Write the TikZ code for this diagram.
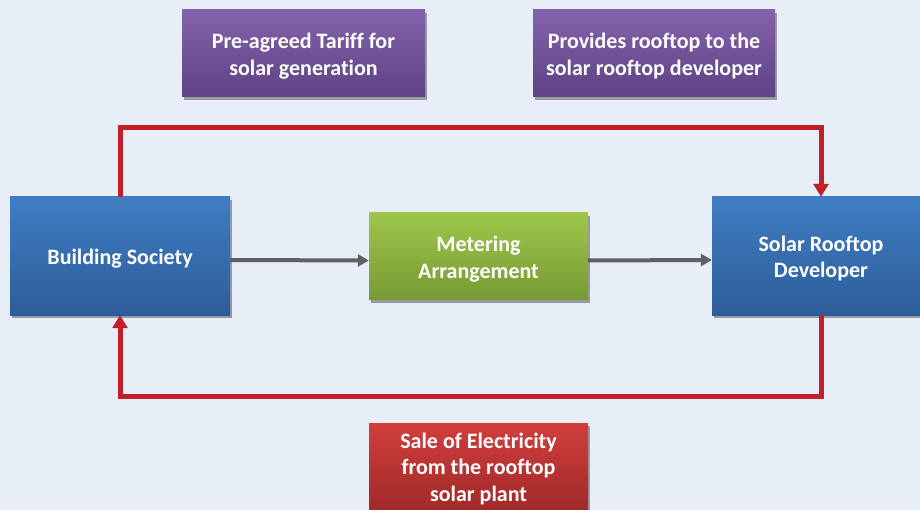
\documentclass[tikz,border=0pt]{standalone}
\usepackage{fontspec}
\setmainfont{Carlito}[RawFeature={-liga}]
\usetikzlibrary{shadows,arrows.meta}
\definecolor{bg}{HTML}{E8EEF8}
\definecolor{purpT}{HTML}{8462AB}
\definecolor{purpB}{HTML}{5E4284}
\definecolor{blueT}{HTML}{3F7DC2}
\definecolor{blueB}{HTML}{2D5D99}
\definecolor{greenT}{HTML}{9EC64B}
\definecolor{greenB}{HTML}{769B34}
\definecolor{redT}{HTML}{D03E3C}
\definecolor{redB}{HTML}{A12A29}
\definecolor{redline}{HTML}{C1202A}
\definecolor{grayline}{HTML}{5F6061}
\begin{document}
\begin{tikzpicture}[x=1pt,y=-1pt,
  box/.style={draw=none, inner sep=0pt,
    drop shadow={shadow xshift=2pt,shadow yshift=-3pt,opacity=0.35,fill=black}},
  boxtext/.style={align=center, text=white, inner sep=0pt, yshift=-2.5pt,
    font=\bfseries\fontsize{22}{26.5}\selectfont},
  purplebox/.style={box, top color=purpT, bottom color=purpB, minimum width=243pt, minimum height=87pt},
  bluebox/.style={box, top color=blueT, bottom color=blueB, minimum height=118pt},
  greenbox/.style={box, top color=greenT, bottom color=greenB, minimum width=219pt, minimum height=87pt},
  redbox/.style={box, top color=redT, bottom color=redB, minimum width=219pt, minimum height=87pt},
  redarrow/.style={draw=redline, line width=5pt, -{Triangle[width=15pt,length=13pt]}},
  grayarrow/.style={draw=grayline, line width=4pt, -{Triangle[width=12pt,length=11pt]}}]
\useasboundingbox (0,0) rectangle (920,510);
\clip (0,0) rectangle (920,510);
\fill[bg] (0,0) rectangle (920,510);

\node[purplebox] (tariff) at (303.5,53.5) {};
\node[boxtext] (tariffT) at (tariff.center) {Pre-agreed Tariff for\\solar generation};
\node[purplebox, minimum width=242pt] (provides) at (654,53.5) {};
\node[boxtext] (providesT) at (provides.center) {Provides rooftop to the\\solar rooftop developer};
\node[bluebox, minimum width=220pt] (bs) at (120,256) {};
\node[boxtext] (bsT) at (bs.center) {Building Society};
\node[greenbox] (meter) at (478.5,256.5) {};
\node[boxtext] (meterT) at (meter.center) {Metering\\Arrangement};
\node[bluebox, minimum width=218pt] (solar) at (821,256) {};
\node[boxtext] (solarT) at (solar.center) {Solar Rooftop\\Developer};
\node[redbox] (sale) at (478.5,466.5) {};
\node[boxtext] (saleT) at (sale.center) {Sale of Electricity\\from the rooftop\\solar plant};

\draw[redarrow] (bs.north) -- ++(0,-69) -| (solar.north);
\draw[redarrow] (solar.south) -- ++(0,81) -| (bs.south);
\draw[grayarrow] ([yshift=-4pt]bs.east) -- ([yshift=-4pt]meter.west);
\draw[grayarrow] ([yshift=-4pt]meter.east) -- ([yshift=-4pt]solar.west);
\end{tikzpicture}
\end{document}
